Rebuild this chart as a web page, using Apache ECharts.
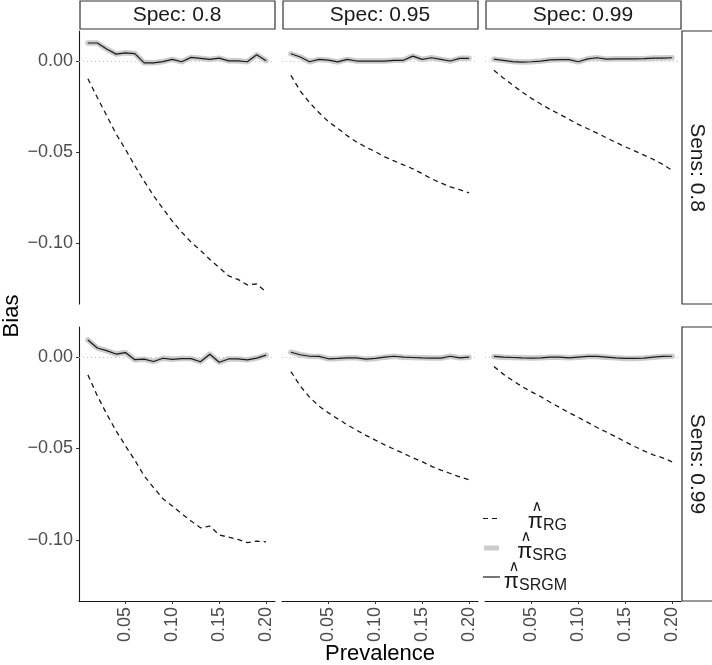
<!DOCTYPE html>
<html>
<head>
<meta charset="utf-8">
<script src="https://cdn.jsdelivr.net/npm/echarts@6/dist/echarts.min.js"></script>
<style>html,body{margin:0;padding:0;background:#fff;}#chart{width:712px;height:665px;}</style>
</head>
<body>
<div id="chart"></div>
<script>
// ---- data ----
const prevalence = [0.01,0.02,0.03,0.04,0.05,0.06,0.07,0.08,0.09,0.10,0.11,0.12,0.13,0.14,0.15,0.16,0.17,0.18,0.19,0.20];
const specLabels = ['Spec: 0.8','Spec: 0.95','Spec: 0.99'];
const sensLabels = ['Sens: 0.8','Sens: 0.99'];
const xTicks = [0.05,0.10,0.15,0.20];
const yTicks = [-0.10,-0.05,0.00];

// Sens 0.8
const rg_se080_sp080 = [-0.0097,-0.0200,-0.0300,-0.0400,-0.0485,-0.0575,-0.0660,-0.0740,-0.0810,-0.0880,-0.0940,-0.0995,-0.1040,-0.1090,-0.1135,-0.1180,-0.1200,-0.1230,-0.1225,-0.1268];
const srgm_se080_sp080 = [0.0099,0.0099,0.0066,0.0038,0.0045,0.0041,-0.0010,-0.0010,-0.0003,0.0009,-0.0004,0.0020,0.0015,0.0009,0.0016,0.0001,0.0001,-0.0004,0.0034,0.0002];
const rg_se080_sp095 = [-0.0079,-0.0165,-0.0229,-0.0284,-0.0333,-0.0370,-0.0410,-0.0445,-0.0473,-0.0498,-0.0527,-0.0549,-0.0571,-0.0592,-0.0619,-0.0647,-0.0670,-0.0692,-0.0707,-0.0725];
const srgm_se080_sp095 = [0.0040,0.0022,-0.0004,0.0009,0.0005,-0.0005,0.0009,0.0000,0.0000,0.0000,0.0000,0.0004,0.0004,0.0027,0.0009,0.0018,0.0009,0.0000,0.0015,0.0015];
const rg_se080_sp099 = [-0.0051,-0.0093,-0.0132,-0.0170,-0.0205,-0.0236,-0.0266,-0.0292,-0.0320,-0.0348,-0.0372,-0.0396,-0.0422,-0.0447,-0.0471,-0.0494,-0.0517,-0.0540,-0.0568,-0.0600];
const srgm_se080_sp099 = [0.0010,0.0004,-0.0003,-0.0006,-0.0004,0.0000,0.0006,0.0008,0.0008,-0.0004,0.0012,0.0018,0.0010,0.0012,0.0012,0.0012,0.0013,0.0016,0.0016,0.0018];
// Sens 0.99
const rg_se099_sp080 = [-0.0097,-0.0211,-0.0311,-0.0403,-0.0485,-0.0564,-0.0650,-0.0714,-0.0775,-0.0815,-0.0857,-0.0897,-0.0934,-0.0925,-0.0974,-0.0985,-0.0998,-0.1016,-0.1007,-0.1011];
const srgm_se099_sp080 = [0.0094,0.0050,0.0036,0.0017,0.0025,-0.0014,-0.0011,-0.0024,-0.0006,-0.0012,-0.0008,-0.0008,-0.0025,0.0016,-0.0028,-0.0010,-0.0010,-0.0015,-0.0005,0.0011];
const rg_se099_sp095 = [-0.0079,-0.0158,-0.0220,-0.0268,-0.0305,-0.0338,-0.0370,-0.0400,-0.0428,-0.0454,-0.0480,-0.0504,-0.0527,-0.0551,-0.0572,-0.0598,-0.0618,-0.0637,-0.0656,-0.0671];
const srgm_se099_sp095 = [0.0027,0.0013,0.0005,0.0004,-0.0009,-0.0007,-0.0004,-0.0004,-0.0011,-0.0007,0.0000,0.0005,0.0000,-0.0002,-0.0004,-0.0005,-0.0005,0.0005,-0.0004,0.0000];
const rg_se099_sp099 = [-0.0051,-0.0093,-0.0128,-0.0161,-0.0190,-0.0216,-0.0247,-0.0275,-0.0304,-0.0330,-0.0357,-0.0385,-0.0410,-0.0436,-0.0463,-0.0489,-0.0513,-0.0535,-0.0551,-0.0573];
const srgm_se099_sp099 = [0.0004,0.0000,-0.0002,-0.0004,-0.0005,-0.0004,0.0000,0.0000,-0.0004,0.0000,0.0004,0.0004,0.0000,-0.0004,-0.0007,-0.0007,-0.0005,0.0000,0.0004,0.0005];
// SRG coincides with SRGM in every panel (grey band under the black line)
const srg_se080_sp080 = srgm_se080_sp080, srg_se080_sp095 = srgm_se080_sp095, srg_se080_sp099 = srgm_se080_sp099;
const srg_se099_sp080 = srgm_se099_sp080, srg_se099_sp095 = srgm_se099_sp095, srg_se099_sp099 = srgm_se099_sp099;

const panels = [
  [ {rg: rg_se080_sp080, srg: srg_se080_sp080, srgm: srgm_se080_sp080},
    {rg: rg_se080_sp095, srg: srg_se080_sp095, srgm: srgm_se080_sp095},
    {rg: rg_se080_sp099, srg: srg_se080_sp099, srgm: srgm_se080_sp099} ],
  [ {rg: rg_se099_sp080, srg: srg_se099_sp080, srgm: srgm_se099_sp080},
    {rg: rg_se099_sp095, srg: srg_se099_sp095, srgm: srgm_se099_sp095},
    {rg: rg_se099_sp099, srg: srg_se099_sp099, srgm: srgm_se099_sp099} ]
];

// ---- layout ----
const FONT = "'Liberation Sans', Arial, Helvetica, sans-serif";
const colX = [79, 282, 485];
const panelW = 196;
const rowY = [31, 327];
const panelH = [273, 274];
const X_MIN = 0.0005, X_MAX = 0.2095;
const Y_MIN = -0.1335, Y_MAX = 0.0165;

const zip = arr => prevalence.map((p, i) => [p, arr[i]]);
const fmtY = v => { const s = Math.abs(v).toFixed(2); return (v < -1e-9 ? '\u2212' : '') + s; };

const grid = [], xAxis = [], yAxis = [], series = [];
let k = 0;
for (let r = 0; r < 2; r++) {
  for (let c = 0; c < 3; c++) {
    grid.push({left: colX[c], top: rowY[r], width: panelW, height: panelH[r], containLabel: false});
    const bottom = r === 1;
    const left = c === 0;
    xAxis.push({
      type: 'value', gridIndex: k, min: X_MIN, max: X_MAX,
      splitLine: {show: false},
      axisLine: {show: bottom, onZero: false, lineStyle: {color: '#1a1a1a', width: 1.1}},
      axisTick: {show: bottom, length: 3, customValues: xTicks, lineStyle: {color: '#333'}},
      axisLabel: {show: bottom, customValues: xTicks, rotate: 90, margin: 6, color: '#4d4d4d',
                  fontSize: 18, fontFamily: FONT, formatter: v => v.toFixed(2)}
    });
    yAxis.push({
      type: 'value', gridIndex: k, min: Y_MIN, max: Y_MAX,
      splitLine: {show: false},
      axisLine: {show: left, onZero: false, lineStyle: {color: '#1a1a1a', width: 1.1}},
      axisTick: {show: left, length: 3, customValues: yTicks, lineStyle: {color: '#333'}},
      axisLabel: {show: left, customValues: yTicks, margin: 6, color: '#4d4d4d',
                  fontSize: 18, fontFamily: FONT, formatter: fmtY}
    });
    const d = panels[r][c];
    series.push({
      type: 'line', xAxisIndex: k, yAxisIndex: k, data: [], z: 1, silent: true,
      markLine: {silent: true, symbol: 'none', label: {show: false}, z: 1,
                 lineStyle: {color: '#c4c4c4', type: [1, 3], width: 1},
                 data: [{yAxis: 0}]}
    });
    series.push({
      type: 'line', name: 'SRG', xAxisIndex: k, yAxisIndex: k, data: zip(d.srg), symbol: 'none', z: 2,
      lineStyle: {color: '#cccccc', width: 5.5, cap: 'round', join: 'round'}
    });
    series.push({
      type: 'line', name: 'SRGM', xAxisIndex: k, yAxisIndex: k, data: zip(d.srgm), symbol: 'none', z: 3,
      lineStyle: {color: '#1a1a1a', width: 1.2}
    });
    series.push({
      type: 'line', name: 'RG', xAxisIndex: k, yAxisIndex: k, data: zip(d.rg), symbol: 'none', z: 3,
      lineStyle: {color: '#1a1a1a', width: 1.3, type: [5, 4]}
    });
    k++;
  }
}

// strips, titles, legend
const graphic = [];
for (let c = 0; c < 3; c++) {
  graphic.push({type: 'rect', shape: {x: colX[c] + 1, y: 1, width: panelW - 1, height: 28},
                style: {fill: '#fff', stroke: '#333', lineWidth: 1.2}, z: 10});
  graphic.push({type: 'text', x: colX[c] + panelW / 2, y: 15.5, z: 11,
                style: {text: specLabels[c], fill: '#1a1a1a', font: '21px ' + FONT, align: 'center', verticalAlign: 'middle'}});
}
for (let r = 0; r < 2; r++) {
  graphic.push({type: 'rect', shape: {x: 682, y: rowY[r], width: 40, height: panelH[r]},
                style: {fill: '#fff', stroke: '#333', lineWidth: 1.2}, z: 10});
  graphic.push({type: 'text', x: 697, y: rowY[r] + panelH[r] / 2, rotation: -Math.PI / 2, z: 11,
                style: {text: sensLabels[r], fill: '#1a1a1a', font: '21px ' + FONT, align: 'center', verticalAlign: 'middle'}});
}
graphic.push({type: 'text', x: 12, y: 316, rotation: Math.PI / 2, z: 11,
              style: {text: 'Bias', fill: '#000', font: '22px ' + FONT, align: 'center', verticalAlign: 'middle'}});
graphic.push({type: 'text', x: 380, y: 654, z: 11,
              style: {text: 'Prevalence', fill: '#000', font: '22px ' + FONT, align: 'center', verticalAlign: 'middle'}});

// legend keys
graphic.push({type: 'line', shape: {x1: 483, y1: 518.5, x2: 500, y2: 518.5}, z: 11,
              style: {stroke: '#1a1a1a', lineWidth: 1.2, lineDash: [5, 4]}});
graphic.push({type: 'line', shape: {x1: 484, y1: 548, x2: 499, y2: 548}, z: 11,
              style: {stroke: '#cccccc', lineWidth: 5}});
graphic.push({type: 'line', shape: {x1: 483, y1: 577, x2: 500, y2: 577}, z: 11,
              style: {stroke: '#1a1a1a', lineWidth: 1.2}});
// legend labels: pi-hat with subscript
const legendLabels = [
  {sub: 'RG', y: 522},
  {sub: 'SRG', y: 552},
  {sub: 'SRGM', y: 582}
];
legendLabels.forEach(L => {
  graphic.push({type: 'text', x: 567, y: L.y, z: 11,
    style: {text: '{p|\u03c0}{s|' + L.sub + '}', align: 'right', verticalAlign: 'middle',
      rich: {p: {font: '22px ' + FONT, fill: '#1a1a1a', verticalAlign: 'middle'},
             s: {font: '16px ' + FONT, fill: '#1a1a1a', padding: [8, 0, 0, 0], verticalAlign: 'middle'}}}});
});
// hats above the pi symbols
[[537, 507], [526, 537], [514, 567]].forEach(h => {
  graphic.push({type: 'text', x: h[0], y: h[1], z: 11,
    style: {text: '\u2227', fill: '#1a1a1a', font: '15px DejaVu Sans', align: 'center', verticalAlign: 'middle'}});
});

const chart = echarts.init(document.getElementById('chart'), null, {renderer: 'canvas'});
chart.setOption({
  animation: false,
  backgroundColor: '#fff',
  textStyle: {fontFamily: FONT},
  grid, xAxis, yAxis, series, graphic
});
</script>
</body>
</html>
